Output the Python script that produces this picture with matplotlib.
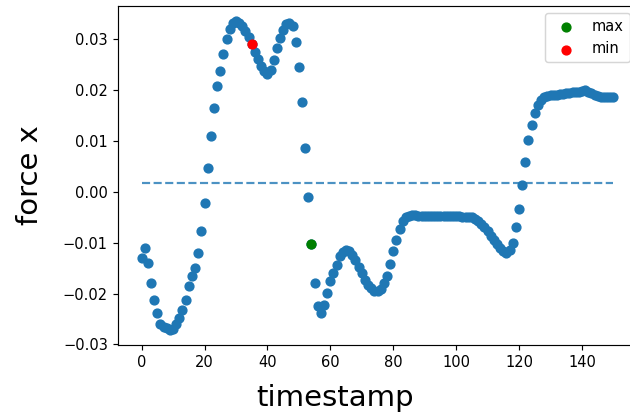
import numpy as np
import matplotlib
matplotlib.use("Agg")
import matplotlib.pyplot as plt

# force x readings, one per timestamp (0..150)
force_x = [
    -0.0131, -0.0111, -0.0140, -0.0180, -0.0212, -0.0238, -0.0260, -0.0265, -0.0268, -0.0271,
    -0.0270, -0.0260, -0.0247, -0.0233, -0.0212, -0.0185, -0.0165, -0.0150, -0.0121, -0.0078,
    -0.0022, 0.0046, 0.0109, 0.0165, 0.0207, 0.0237, 0.0271, 0.0300, 0.0320, 0.0331,
    0.0335, 0.0332, 0.0325, 0.0315, 0.0304, 0.0290, 0.0275, 0.0260, 0.0247, 0.0237,
    0.0232, 0.0239, 0.0258, 0.0283, 0.0303, 0.0318, 0.0330, 0.0331, 0.0325, 0.0295,
    0.0246, 0.0176, 0.0086, -0.0010, -0.0103, -0.0180, -0.0225, -0.0238, -0.0222, -0.0198,
    -0.0176, -0.0160, -0.0144, -0.0127, -0.0118, -0.0114, -0.0117, -0.0124, -0.0134, -0.0147,
    -0.0160, -0.0173, -0.0183, -0.0189, -0.0195, -0.0194, -0.0190, -0.0180, -0.0165, -0.0142,
    -0.0116, -0.0095, -0.0074, -0.0057, -0.0050, -0.0047, -0.0046, -0.0046, -0.0047, -0.0047,
    -0.0047, -0.0047, -0.0047, -0.0047, -0.0048, -0.0048, -0.0048, -0.0048, -0.0048, -0.0048,
    -0.0048, -0.0048, -0.0049, -0.0049, -0.0049, -0.0050, -0.0053, -0.0058, -0.0063, -0.0070,
    -0.0078, -0.0086, -0.0095, -0.0103, -0.0111, -0.0117, -0.0121, -0.0115, -0.0100, -0.0069,
    -0.0033, 0.0013, 0.0059, 0.0101, 0.0131, 0.0154, 0.0170, 0.0181, 0.0187, 0.0189,
    0.0190, 0.0191, 0.0191, 0.0192, 0.0193, 0.0194, 0.0195, 0.0196, 0.0196, 0.0197,
    0.0198, 0.0199, 0.0197, 0.0194, 0.0191, 0.0188, 0.0187, 0.0186, 0.0186, 0.0186,
    0.0186,
]
timestamps = np.arange(len(force_x))

max_idx = 54
min_idx = 35
mean_force = 0.0018

fig = plt.figure(figsize=(6.0, 416 / 105), dpi=105)
ax = fig.add_axes([118 / 630, 71 / 416, 519 / 630, 339 / 416])

ax.scatter(timestamps, force_x)
ax.scatter(timestamps[max_idx], force_x[max_idx], color="green", label="max")
ax.scatter(timestamps[min_idx], force_x[min_idx], color="red", label="min")
ax.hlines(mean_force, timestamps[0], timestamps[-1], colors="C0",
          linestyles="dashed", alpha=0.8)

ax.set_xlim(-7.5, 157.5)
ax.set_ylim(-0.0301, 0.0365)

ax.set_xlabel("timestamp", fontsize=20)
ax.set_ylabel("force x", fontsize=20)
ax.xaxis.set_label_coords(0.418, -0.115)
ax.yaxis.set_label_coords(-0.143, 0.5)

ax.legend(loc="upper right")

fig.savefig("out.png", dpi=105)
